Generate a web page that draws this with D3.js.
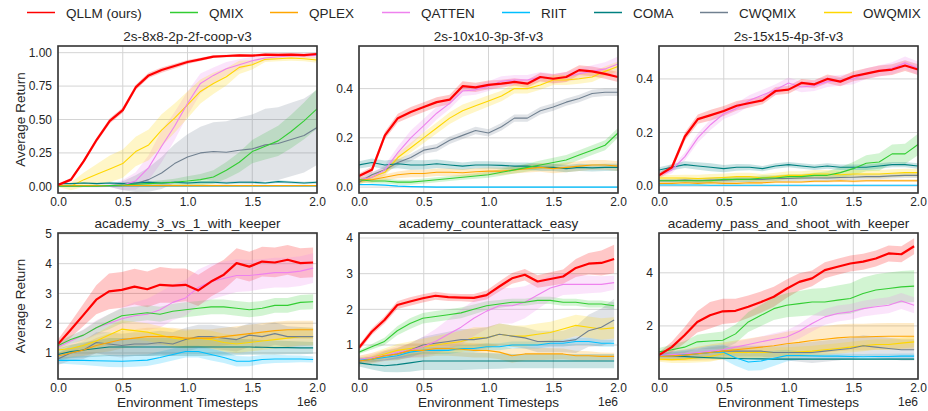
<!DOCTYPE html>
<html><head><meta charset="utf-8">
<script src="https://cdn.jsdelivr.net/npm/d3@7"></script>
<style>
body{margin:0;background:#fff}
svg{display:block}
text{font-family:"Liberation Sans",Arial,Helvetica,sans-serif;fill:#262626}
</style>
</head><body>
<svg id="chart" width="928" height="411"></svg>
<script>
// ---------- categories / labels ----------
const methods = ["QLLM (ours)","QMIX","QPLEX","QATTEN","RIIT","COMA","CWQMIX","OWQMIX"];
const keys = ["QLLM","QMIX","QPLEX","QATTEN","RIIT","COMA","CWQMIX","OWQMIX"];
const titles = ["2s-8x8-2p-2f-coop-v3","2s-10x10-3p-3f-v3","2s-15x15-4p-3f-v3",
  "academy_3_vs_1_with_keeper","academy_counterattack_easy","academy_pass_and_shoot_with_keeper"];
const xTickLabels = [0,0.5,1.0,1.5,2.0];
const xEnd = [2.0,2.0,2.0,1.97,1.97,1.97];   // last timestep (1e6) of each panel
const yTickLabels = [[0,0.25,0.5,0.75,1.0],[0,0.2,0.4],[0,0.2,0.4],[1,2,3,4,5],[1,2,3,4],[2,4]];
const yDomains = [[-0.05,1.05],[-0.024,0.573],[-0.026,0.523],[0.126,5.03],[0.047,4.14],[0,5.5]];

// ---------- series values (21 points each, evenly spaced from 0 to xEnd) ----------
// Panel 1: 2s-8x8-2p-2f-coop-v3
const p1_QLLM   = [0.01,0.05,0.19,0.35,0.49,0.57,0.74,0.83,0.87,0.90,0.93,0.95,0.97,0.975,0.98,0.978,0.985,0.983,0.985,0.982,0.99];
const p1_QMIX   = [0,0,0,0,0.005,0.01,0.015,0.02,0.025,0.03,0.04,0.05,0.07,0.12,0.18,0.26,0.30,0.34,0.41,0.49,0.58];
const p1_QPLEX  = [0.005,0.005,0.005,0.005,0.005,0.005,0.005,0.005,0.005,0.005,0.005,0.005,0.005,0.005,0.005,0.005,0.005,0.005,0.005,0.005,0.005];
const p1_QATTEN = [0,0,0,0,0.005,0.01,0.04,0.14,0.30,0.45,0.62,0.77,0.83,0.88,0.91,0.94,0.96,0.97,0.975,0.975,0.98];
const p1_RIIT   = [0.003,0.003,0.003,0.003,0.003,0.003,0.003,0.003,0.003,0.003,0.003,0.003,0.003,0.003,0.003,0.003,0.003,0.003,0.003,0.003,0.003];
const p1_COMA   = [0.02,0.02,0.025,0.02,0.025,0.02,0.025,0.03,0.025,0.03,0.025,0.03,0.03,0.025,0.03,0.03,0.025,0.035,0.03,0.025,0.03];
const p1_CWQMIX = [0,0,0,0,0,0.005,0.02,0.05,0.10,0.17,0.22,0.25,0.26,0.255,0.27,0.28,0.31,0.32,0.35,0.38,0.44];
const p1_OWQMIX = [0,0,0.05,0.09,0.13,0.17,0.26,0.31,0.42,0.51,0.61,0.71,0.77,0.82,0.89,0.91,0.95,0.955,0.96,0.955,0.945];
// Panel 2: 2s-10x10-3p-3f-v3
const p2_QLLM   = [0.045,0.07,0.21,0.28,0.305,0.325,0.345,0.355,0.41,0.405,0.415,0.42,0.427,0.42,0.447,0.44,0.447,0.475,0.47,0.46,0.447];
const p2_QMIX   = [0.03,0.025,0.025,0.02,0.02,0.025,0.03,0.035,0.04,0.045,0.05,0.06,0.07,0.08,0.09,0.10,0.11,0.13,0.15,0.17,0.22];
const p2_QPLEX  = [0.03,0.03,0.04,0.05,0.055,0.055,0.06,0.06,0.058,0.062,0.065,0.065,0.07,0.075,0.08,0.075,0.08,0.085,0.09,0.09,0.085];
const p2_QATTEN = [0.03,0.04,0.07,0.14,0.20,0.25,0.30,0.34,0.39,0.395,0.41,0.43,0.435,0.435,0.447,0.44,0.447,0.46,0.47,0.48,0.50];
const p2_RIIT   = [0.01,0.01,0.008,0.004,0.002,0.001,0,0,0,0,0,0,0,0,0,0,0,0,0,0,0];
const p2_COMA   = [0.09,0.10,0.09,0.095,0.09,0.09,0.095,0.09,0.085,0.09,0.09,0.088,0.085,0.085,0.08,0.08,0.075,0.08,0.078,0.08,0.08];
const p2_CWQMIX = [0.02,0.05,0.07,0.10,0.12,0.15,0.16,0.19,0.21,0.23,0.22,0.245,0.28,0.28,0.31,0.325,0.345,0.36,0.38,0.385,0.385];
const p2_OWQMIX = [0.02,0.04,0.06,0.12,0.16,0.20,0.24,0.28,0.31,0.33,0.35,0.37,0.40,0.40,0.415,0.435,0.435,0.44,0.447,0.47,0.49];
// Panel 3: 2s-15x15-4p-3f-v3
const p3_QLLM   = [0.04,0.07,0.185,0.25,0.265,0.28,0.30,0.31,0.32,0.355,0.36,0.385,0.38,0.40,0.39,0.41,0.42,0.43,0.435,0.45,0.435];
const p3_QMIX   = [0.02,0.02,0.02,0.02,0.02,0.025,0.025,0.025,0.03,0.03,0.035,0.035,0.04,0.04,0.05,0.065,0.085,0.09,0.12,0.12,0.155];
const p3_QPLEX  = [0.01,0.01,0.012,0.01,0.012,0.01,0.01,0.012,0.012,0.015,0.015,0.015,0.018,0.018,0.02,0.018,0.02,0.02,0.02,0.02,0.02];
const p3_QATTEN = [0.04,0.06,0.11,0.18,0.23,0.27,0.29,0.32,0.34,0.36,0.385,0.37,0.375,0.39,0.395,0.40,0.42,0.43,0.44,0.46,0.44];
const p3_RIIT   = [0.004,0.004,0.004,0.004,0.003,0.003,0.003,0.003,0.003,0.003,0.003,0.003,0.003,0.003,0.003,0.003,0.003,0.003,0.003,0.003,0.003];
const p3_COMA   = [0.06,0.07,0.08,0.075,0.07,0.065,0.07,0.07,0.065,0.075,0.08,0.075,0.07,0.075,0.07,0.07,0.07,0.075,0.08,0.08,0.075];
const p3_CWQMIX = [0.02,0.02,0.022,0.02,0.022,0.022,0.025,0.025,0.025,0.028,0.028,0.03,0.03,0.03,0.032,0.033,0.035,0.035,0.038,0.04,0.04];
const p3_OWQMIX = [0.03,0.03,0.03,0.028,0.03,0.032,0.035,0.035,0.03,0.035,0.04,0.04,0.045,0.045,0.042,0.045,0.045,0.045,0.048,0.05,0.05];
// Panel 4: academy_3_vs_1_with_keeper
const p4_QLLM   = [1.3,1.78,2.28,2.79,3.07,3.12,3.23,3.14,3.29,3.26,3.29,3.1,3.4,3.63,4.02,3.9,4.07,4.04,4.13,4.02,4.04];
const p4_QMIX   = [1.25,1.45,1.6,1.85,2.05,2.25,2.3,2.35,2.3,2.4,2.45,2.5,2.55,2.55,2.5,2.45,2.5,2.6,2.6,2.7,2.72];
const p4_QPLEX  = [0.9,1.0,1.1,1.25,1.35,1.45,1.5,1.55,1.55,1.55,1.5,1.5,1.5,1.55,1.6,1.65,1.7,1.75,1.78,1.78,1.78];
const p4_QATTEN = [1.2,1.4,1.6,1.85,2.0,2.15,2.25,2.3,2.45,2.7,2.85,3.2,3.4,3.5,3.6,3.6,3.65,3.7,3.7,3.75,3.85];
const p4_RIIT   = [0.75,0.75,0.75,0.74,0.73,0.72,0.74,0.76,0.85,0.95,1.05,1.05,0.95,0.85,0.72,0.72,0.78,0.8,0.8,0.8,0.78];
const p4_COMA   = [0.95,1.05,1.1,1.15,1.2,1.2,1.2,1.2,1.2,1.2,1.2,1.2,1.2,1.2,1.2,1.2,1.19,1.18,1.18,1.17,1.17];
const p4_CWQMIX = [0.8,1.0,1.1,1.35,1.3,1.25,1.3,1.3,1.35,1.3,1.45,1.55,1.55,1.5,1.45,1.6,1.55,1.65,1.55,1.55,1.55];
const p4_OWQMIX = [1.1,1.15,1.25,1.4,1.6,1.8,1.75,1.7,1.6,1.5,1.45,1.5,1.45,1.35,1.3,1.35,1.4,1.45,1.5,1.55,1.55];
// Panel 5: academy_counterattack_easy
const p5_QLLM   = [0.92,1.37,1.7,2.12,2.22,2.31,2.38,2.34,2.33,2.32,2.4,2.64,2.87,2.97,2.78,2.85,2.92,3.16,3.28,3.3,3.41];
const p5_QMIX   = [0.8,0.95,1.1,1.4,1.6,1.75,1.8,1.85,1.9,2.0,2.1,2.15,2.2,2.2,2.25,2.25,2.2,2.2,2.15,2.15,2.1];
const p5_QPLEX  = [0.55,0.6,0.7,0.75,0.85,0.85,0.9,0.9,0.88,0.85,0.85,0.8,0.7,0.75,0.75,0.75,0.75,0.7,0.7,0.68,0.68];
const p5_QATTEN = [0.6,0.65,0.7,0.8,0.85,0.95,1.1,1.3,1.5,1.75,1.95,2.1,2.1,2.2,2.4,2.6,2.7,2.7,2.7,2.7,2.75];
const p5_RIIT   = [0.6,0.6,0.65,0.7,0.8,0.85,0.85,0.85,0.9,0.9,0.95,0.95,1.0,1.0,1.0,1.05,1.05,1.1,1.1,1.05,1.05];
const p5_COMA   = [0.5,0.45,0.42,0.45,0.5,0.55,0.55,0.55,0.55,0.55,0.55,0.55,0.55,0.55,0.55,0.55,0.55,0.55,0.55,0.55,0.55];
const p5_CWQMIX = [0.55,0.6,0.7,0.75,0.85,1.0,1.05,1.1,1.15,1.15,1.2,1.3,1.25,1.2,1.1,1.1,1.1,1.15,1.4,1.5,1.7];
const p5_OWQMIX = [0.6,0.65,0.75,0.85,0.9,0.95,1.0,1.05,1.1,1.2,1.2,1.3,1.25,1.25,1.3,1.35,1.45,1.55,1.5,1.45,1.48];
// Panel 6: academy_pass_and_shoot_with_keeper
const p6_QLLM   = [0.9,1.2,1.65,2.15,2.4,2.55,2.57,2.72,2.9,3.1,3.4,3.66,3.79,4.1,4.23,4.35,4.42,4.54,4.73,4.7,5.0];
const p6_QMIX   = [1.02,1.1,1.2,1.4,1.43,1.46,1.7,2.15,2.4,2.65,2.78,2.84,2.9,2.9,2.97,3.03,3.22,3.35,3.41,3.47,3.5];
const p6_QPLEX  = [0.85,0.87,0.9,0.95,1.0,1.05,1.1,1.15,1.2,1.25,1.33,1.38,1.45,1.5,1.55,1.58,1.58,1.6,1.61,1.61,1.61];
const p6_QATTEN = [0.9,0.92,0.95,1.0,1.05,1.1,1.2,1.3,1.4,1.5,1.58,1.8,2.09,2.34,2.47,2.53,2.65,2.72,2.78,2.94,2.78];
const p6_RIIT   = [0.88,0.9,0.92,0.95,1.0,1.02,0.8,0.64,0.68,0.78,0.88,0.88,0.87,0.86,0.86,0.85,0.84,0.85,0.85,0.86,0.86];
const p6_COMA   = [0.9,0.88,0.85,0.82,0.8,0.78,0.77,0.76,0.76,0.75,0.75,0.75,0.75,0.75,0.75,0.75,0.75,0.75,0.75,0.75,0.75];
const p6_CWQMIX = [0.85,0.88,0.9,0.95,1.0,1.05,1.05,1.05,1.05,1.0,1.0,1.0,1.0,1.05,1.1,1.15,1.25,1.2,1.15,1.1,1.1];
const p6_OWQMIX = [0.75,0.73,0.75,0.8,0.85,0.95,1.0,1.0,1.0,1.0,1.0,1.02,1.05,1.1,1.15,1.2,1.25,1.3,1.3,1.35,1.4];

// ---------- shaded band half-widths (6 knots: 0, .2, .4, .6, .8, 1 of xEnd) ----------
const b1_QLLM=[0.01,0.02,0.02,0.01,0.01,0.01], b1_QMIX=[0.005,0.005,0.02,0.05,0.1,0.15], b1_QPLEX=[0.005,0.005,0.01,0.01,0.005,0.005], b1_QATTEN=[0.005,0.01,0.12,0.06,0.02,0.02];
const b1_RIIT=[0.002,0.002,0.002,0.002,0.002,0.002], b1_COMA=[0.005,0.01,0.01,0.01,0.01,0.01], b1_CWQMIX=[0.005,0.005,0.12,0.22,0.27,0.28], b1_OWQMIX=[0.005,0.1,0.12,0.08,0.02,0.02];
const b2_QLLM=[0.01,0.02,0.02,0.015,0.02,0.02], b2_QMIX=[0.01,0.01,0.01,0.015,0.02,0.02], b2_QPLEX=[0.01,0.015,0.015,0.015,0.02,0.02], b2_QATTEN=[0.01,0.03,0.02,0.02,0.02,0.03];
const b2_RIIT=[0.002,0.002,0.002,0.002,0.002,0.002], b2_COMA=[0.015,0.02,0.015,0.015,0.015,0.015], b2_CWQMIX=[0.01,0.015,0.015,0.015,0.015,0.015], b2_OWQMIX=[0.01,0.02,0.025,0.02,0.02,0.02];
const b3_QLLM=[0.01,0.02,0.015,0.015,0.02,0.02], b3_QMIX=[0.005,0.01,0.01,0.01,0.03,0.04], b3_QPLEX=[0.005,0.005,0.005,0.005,0.005,0.005], b3_QATTEN=[0.01,0.02,0.02,0.02,0.02,0.025];
const b3_RIIT=[0.002,0.002,0.002,0.002,0.002,0.002], b3_COMA=[0.01,0.015,0.01,0.01,0.01,0.01], b3_CWQMIX=[0.005,0.01,0.01,0.01,0.01,0.01], b3_OWQMIX=[0.01,0.015,0.015,0.015,0.015,0.015];
const b4_QLLM=[0.15,0.6,0.6,0.5,0.5,0.5], b4_QMIX=[0.1,0.25,0.25,0.25,0.25,0.25], b4_QPLEX=[0.1,0.3,0.3,0.3,0.3,0.3], b4_QATTEN=[0.1,0.3,0.6,0.6,0.5,0.5];
const b4_RIIT=[0.1,0.2,0.2,0.2,0.15,0.1], b4_COMA=[0.2,0.3,0.3,0.3,0.25,0.2], b4_CWQMIX=[0.2,0.4,0.4,0.4,0.4,0.3], b4_OWQMIX=[0.1,0.3,0.3,0.3,0.3,0.3];
const b5_QLLM=[0.08,0.12,0.1,0.15,0.2,0.4], b5_QMIX=[0.05,0.15,0.15,0.1,0.1,0.1], b5_QPLEX=[0.1,0.2,0.2,0.2,0.15,0.1], b5_QATTEN=[0.1,0.2,0.5,0.5,0.3,0.2];
const b5_RIIT=[0.05,0.1,0.1,0.1,0.1,0.1], b5_COMA=[0.1,0.25,0.25,0.2,0.2,0.2], b5_CWQMIX=[0.05,0.2,0.3,0.3,0.3,0.6], b5_OWQMIX=[0.1,0.2,0.3,0.3,0.3,0.3];
const b6_QLLM=[0.1,0.5,0.4,0.3,0.3,0.3], b6_QMIX=[0.15,0.3,0.4,0.5,0.6,0.6], b6_QPLEX=[0.15,0.3,0.4,0.5,0.5,0.5], b6_QATTEN=[0.1,0.2,0.2,0.3,0.3,0.3];
const b6_RIIT=[0.1,0.25,0.35,0.1,0.1,0.1], b6_COMA=[0.05,0.03,0.03,0.03,0.03,0.03], b6_CWQMIX=[0.1,0.2,0.2,0.4,0.4,0.4], b6_OWQMIX=[0.1,0.2,0.2,0.2,0.2,0.2];

const means = [
  [p1_QLLM,p1_QMIX,p1_QPLEX,p1_QATTEN,p1_RIIT,p1_COMA,p1_CWQMIX,p1_OWQMIX],
  [p2_QLLM,p2_QMIX,p2_QPLEX,p2_QATTEN,p2_RIIT,p2_COMA,p2_CWQMIX,p2_OWQMIX],
  [p3_QLLM,p3_QMIX,p3_QPLEX,p3_QATTEN,p3_RIIT,p3_COMA,p3_CWQMIX,p3_OWQMIX],
  [p4_QLLM,p4_QMIX,p4_QPLEX,p4_QATTEN,p4_RIIT,p4_COMA,p4_CWQMIX,p4_OWQMIX],
  [p5_QLLM,p5_QMIX,p5_QPLEX,p5_QATTEN,p5_RIIT,p5_COMA,p5_CWQMIX,p5_OWQMIX],
  [p6_QLLM,p6_QMIX,p6_QPLEX,p6_QATTEN,p6_RIIT,p6_COMA,p6_CWQMIX,p6_OWQMIX]];
const bands = [
  [b1_QLLM,b1_QMIX,b1_QPLEX,b1_QATTEN,b1_RIIT,b1_COMA,b1_CWQMIX,b1_OWQMIX],
  [b2_QLLM,b2_QMIX,b2_QPLEX,b2_QATTEN,b2_RIIT,b2_COMA,b2_CWQMIX,b2_OWQMIX],
  [b3_QLLM,b3_QMIX,b3_QPLEX,b3_QATTEN,b3_RIIT,b3_COMA,b3_CWQMIX,b3_OWQMIX],
  [b4_QLLM,b4_QMIX,b4_QPLEX,b4_QATTEN,b4_RIIT,b4_COMA,b4_CWQMIX,b4_OWQMIX],
  [b5_QLLM,b5_QMIX,b5_QPLEX,b5_QATTEN,b5_RIIT,b5_COMA,b5_CWQMIX,b5_OWQMIX],
  [b6_QLLM,b6_QMIX,b6_QPLEX,b6_QATTEN,b6_RIIT,b6_COMA,b6_CWQMIX,b6_OWQMIX]];

// ---------- styles / layout ----------
const colors = ["#ff0000","#32cd32","#ffa500","#ee82ee","#00bfff","#008080","#708090","#ffd700"];
const colX = [[58,317],[359,618],[659,918]];
const rowY = [[46,193],[233,379]];
const legendX = [27,170,270,382,502,594,700,824];

const svg = d3.select("#chart");

// legend
const lg = svg.append("g");
methods.forEach((m,i)=>{
  lg.append("line").attr("x1",legendX[i]).attr("x2",legendX[i]+28).attr("y1",12.5).attr("y2",12.5)
    .attr("stroke",colors[i]).attr("stroke-width",1.5);
  lg.append("text").attr("x",legendX[i]+39).attr("y",17.5).attr("font-size",13.5).text(m);
});

titles.forEach((title,p)=>{
  const r = Math.floor(p/3), c = p%3;
  const [x0,x1] = colX[c], [y0,y1] = rowY[r];
  const x = d3.scaleLinear().domain([0,2.0]).range([x0,x1]);
  const y = d3.scaleLinear().domain(yDomains[p]).range([y1,y0]);
  const g = svg.append("g");
  const clipId = "clip"+p;
  g.append("clipPath").attr("id",clipId).append("rect")
    .attr("x",x0).attr("y",y0).attr("width",x1-x0).attr("height",y1-y0);

  // grid
  const grid = g.append("g").attr("stroke","#d4d4d4").attr("stroke-width",1);
  xTickLabels.forEach(t=>grid.append("line").attr("x1",x(t)).attr("x2",x(t)).attr("y1",y0).attr("y2",y1));
  yTickLabels[p].forEach(t=>grid.append("line").attr("x1",x0).attr("x2",x1).attr("y1",y(t)).attr("y2",y(t)));

  const data = means[p];
  const xs = d3.range(21).map(i=>i*xEnd[p]/20);
  const plot = g.append("g").attr("clip-path",`url(#${clipId})`);

  // bands
  data.forEach((arr,k)=>{
    const hwScale = d3.scaleLinear().domain([0,.2,.4,.6,.8,1].map(f=>f*xEnd[p])).range(bands[p][k]);
    const pts = arr.map((v,i)=>({x:xs[i],lo:v-hwScale(xs[i]),hi:v+hwScale(xs[i])}));
    plot.append("path").datum(pts)
      .attr("d",d3.area().x(d=>x(d.x)).y0(d=>y(d.lo)).y1(d=>y(d.hi)))
      .attr("fill",colors[k]).attr("fill-opacity",0.22).attr("stroke","none");
  });
  // lines (QLLM drawn last so it sits on top)
  d3.range(data.length).reverse().forEach(k=>{
    const pts = data[k].map((v,i)=>[xs[i],v]);
    plot.append("path").datum(pts)
      .attr("d",d3.line().x(d=>x(d[0])).y(d=>y(d[1])))
      .attr("fill","none").attr("stroke",colors[k])
      .attr("stroke-width",k===0?2.2:1.1).attr("stroke-linejoin","round");
  });

  // frame
  g.append("rect").attr("x",x0).attr("y",y0).attr("width",x1-x0).attr("height",y1-y0)
    .attr("fill","none").attr("stroke","#333").attr("stroke-width",1.6);

  // x axis
  const xa = g.append("g").attr("transform",`translate(0,${y1})`)
    .call(d3.axisBottom(x).tickValues(xTickLabels).tickFormat(d3.format(".1f")).tickSize(0).tickPadding(4));
  xa.select(".domain").remove();
  xa.selectAll("text").attr("font-size",12).attr("font-family",null).attr("fill","#262626");
  // y axis
  const fmt = p===0 ? d3.format(".2f") : (p<3 ? d3.format(".1f") : d3.format("d"));
  const ya = g.append("g").attr("transform",`translate(${x0},0)`)
    .call(d3.axisLeft(y).tickValues(yTickLabels[p]).tickFormat(fmt).tickSize(0).tickPadding(6));
  ya.select(".domain").remove();
  ya.selectAll("text").attr("font-size",12).attr("font-family",null).attr("fill","#262626");

  // title
  g.append("text").attr("x",(x0+x1)/2).attr("y",y0-5).attr("text-anchor","middle")
    .attr("font-size",13.5).text(title);

  if (c===0) {
    g.append("text").attr("transform",`translate(25,${(y0+y1)/2}) rotate(-90)`)
      .attr("text-anchor","middle").attr("font-size",13.5).text("Average Return");
  }
  if (r===1) {
    g.append("text").attr("x",(x0+x1)/2).attr("y",407).attr("text-anchor","middle")
      .attr("font-size",13.5).text("Environment Timesteps");
    g.append("text").attr("x",x1).attr("y",406).attr("text-anchor","end")
      .attr("font-size",12).text("1e6");
  }
});
</script>
</body></html>
